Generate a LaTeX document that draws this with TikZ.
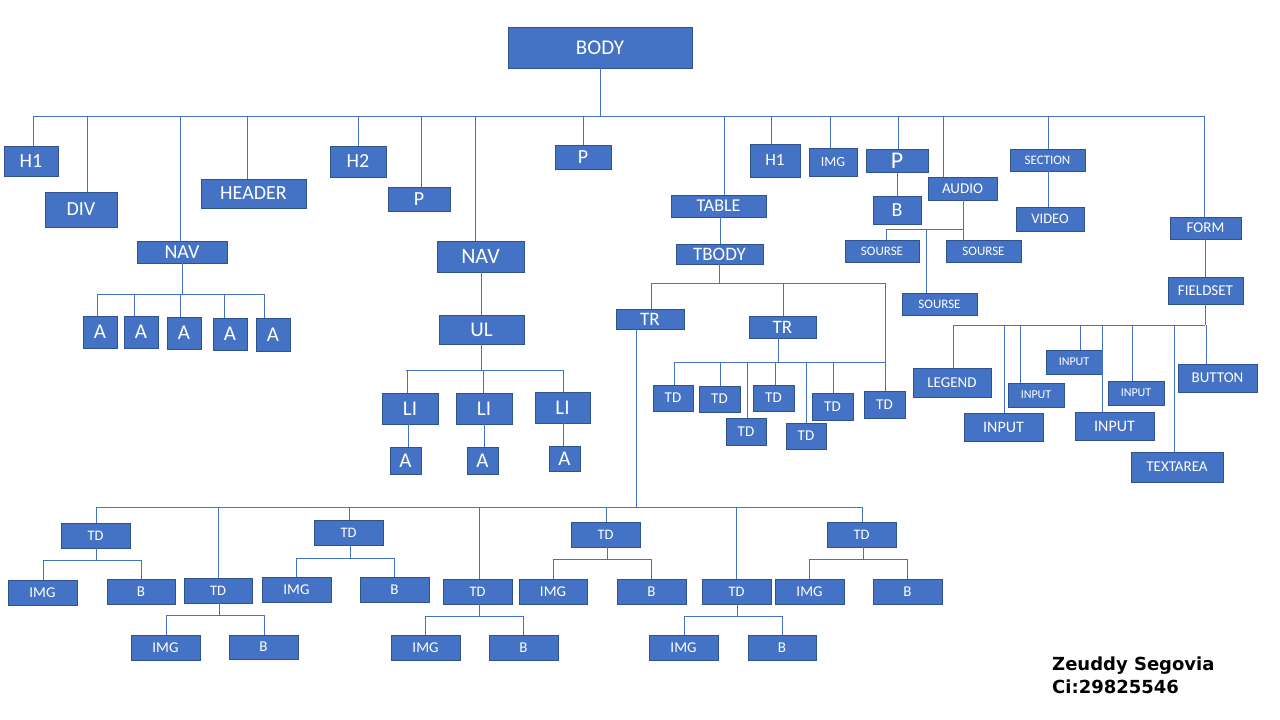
\documentclass[tikz,border=0pt]{standalone}
\usepackage{fontspec}
\setmainfont{Carlito}
\newfontfamily\sigfont{DejaVu Sans}
\definecolor{boxfill}{HTML}{4472C4}
\definecolor{boxline}{HTML}{2F528F}
\definecolor{connc}{HTML}{4472C4}
\tikzset{
  box/.style={draw=boxline, fill=boxfill, text=white, inner sep=0pt, outer sep=0pt, line width=0.9pt},
  conn/.style={draw=connc, line width=1pt}
}
\newcommand\bx[7]{%
  \pgfmathsetmacro\bw{#4-#2}\pgfmathsetmacro\bh{#5-#3}%
  \node[box,minimum width=\bw pt,minimum height=\bh pt,font=\fontsize{#6}{#6}\selectfont] (#1) at ({(#2+#4)/2},{(#3+#5)/2}) {#7};}
\newcommand\drop[3]{\coordinate (tmp) at (#2,#3); \draw[conn] (tmp) -- (tmp |- #1.north);}
\newcommand\rise[3]{\coordinate (tmp) at (#2,#3); \draw[conn] (tmp |- #1.south) -- (tmp);}
\newcommand\link[3]{\coordinate (tmp) at (#3,0); \draw[conn] (tmp |- #1.south) -- (tmp |- #2.north);}
\newcommand\bus[3]{\coordinate (bl) at (#1,#3); \coordinate (br) at (#2,#3); \draw[conn] (bl) -- (br);}
\begin{document}
\begin{tikzpicture}[x=1pt,y=-1pt]
\fill[white] (0,0) rectangle (1280,720);
\useasboundingbox (0,0) rectangle (1280,720);
% top level
\bx{body}{508}{27}{692}{68}{21}{BODY}
\bx{h1a}{4}{146}{58}{176}{20}{H1}
\bx{div}{45}{192}{117}{227}{20}{DIV}
\bx{nava}{137}{241}{227}{263}{20}{NAV}
\bx{header}{201}{179}{306}{208}{20}{HEADER}
\bx{a1}{83}{316}{117}{348}{21}{A}
\bx{a2}{124}{316}{158}{348}{21}{A}
\bx{a3}{167}{317}{201}{349}{21}{A}
\bx{a4}{213}{318}{247}{350}{21}{A}
\bx{a5}{256}{318}{290}{351}{21}{A}
\bx{h2}{330}{146}{386}{177}{20}{H2}
\bx{pa}{388}{187}{450}{211}{20}{P}
\bx{navb}{437}{241}{524}{272}{22}{NAV}
\bx{ul}{439}{315}{524}{344}{21}{UL}
\bx{li1}{382}{393}{438}{424}{21}{LI}
\bx{li2}{456}{393}{512}{424}{21}{LI}
\bx{li3}{535}{392}{590}{423}{21}{LI}
\bx{la1}{390}{447}{421}{474}{21}{A}
\bx{la2}{467}{447}{498}{474}{21}{A}
\bx{la3}{549}{446}{580}{471}{21}{A}
\bx{pb}{555}{145}{611}{169}{20}{P}
\bx{table}{671}{195}{766}{217}{18}{TABLE}
\bx{tbody}{676}{244}{763}{264}{19}{TBODY}
\bx{tr1}{616}{309}{684}{329}{19}{TR}
\bx{tr2}{749}{316}{816}{338}{19}{TR}
\bx{td1}{653}{385}{693}{411}{15}{TD}
\bx{td2}{699}{386}{740}{412}{15}{TD}
\bx{td3}{726}{418}{766}{445}{15}{TD}
\bx{td4}{753}{385}{794}{411}{15}{TD}
\bx{td5}{786}{423}{826}{449}{15}{TD}
\bx{td6}{812}{393}{853}{420}{15}{TD}
\bx{td7}{864}{391}{905}{418}{15}{TD}
\bx{h1b}{750}{144}{800}{177}{17}{H1}
\bx{imga}{809}{148}{857}{176}{14}{IMG}
\bx{pc}{866}{149}{928}{172}{24}{P}
\bx{bb}{873}{196}{921}{224}{20}{B}
\bx{audio}{928}{177}{997}{200}{15}{AUDIO}
\bx{src1}{845}{240}{919}{262}{13}{SOURSE}
\bx{src2}{946}{240}{1021}{262}{13}{SOURSE}
\bx{src3}{902}{293}{977}{315}{13}{SOURSE}
\bx{section}{1010}{149}{1085}{171}{13}{SECTION}
\bx{video}{1016}{207}{1084}{231}{14.5}{VIDEO}
\bx{form}{1170}{217}{1241}{239}{15}{FORM}
\bx{fieldset}{1168}{277}{1243}{304}{15}{FIELDSET}
\bx{legend}{913}{368}{991}{397}{15}{LEGEND}
\bx{inA}{964}{413}{1043}{441}{16}{INPUT}
\bx{inb}{1008}{383}{1064}{407}{12}{INPUT}
\bx{inc}{1046}{350}{1102}{374}{12}{INPUT}
\bx{inD}{1075}{412}{1154}{440}{16}{INPUT}
\bx{ine}{1108}{381}{1164}{405}{12}{INPUT}
\bx{textarea}{1131}{452}{1223}{482}{15}{TEXTAREA}
\bx{button}{1178}{364}{1257}{392}{15}{BUTTON}
% bottom
\bx{tda}{61}{523}{130}{548}{14.5}{TD}
\bx{imga1}{8}{580}{77}{605}{15}{IMG}
\bx{ba}{107}{579}{175}{604}{15}{B}
\bx{tdb}{184}{578}{252}{603}{14.5}{TD}
\bx{imgb}{131}{635}{200}{660}{15}{IMG}
\bx{bbb}{229}{635}{298}{659}{15}{B}
\bx{tdc}{314}{520}{383}{545}{14.5}{TD}
\bx{imgc}{262}{577}{331}{602}{15}{IMG}
\bx{bc}{360}{577}{429}{602}{15}{B}
\bx{tdd}{443}{579}{512}{604}{14.5}{TD}
\bx{imgd}{391}{635}{460}{660}{15}{IMG}
\bx{bd}{489}{635}{558}{660}{15}{B}
\bx{tde}{571}{522}{640}{547}{14.5}{TD}
\bx{imge}{519}{579}{587}{604}{15}{IMG}
\bx{be}{617}{579}{686}{604}{15}{B}
\bx{tdf}{702}{579}{771}{604}{14.5}{TD}
\bx{imgf}{649}{635}{718}{660}{15}{IMG}
\bx{bf}{748}{635}{816}{660}{15}{B}
\bx{tdg}{827}{522}{896}{547}{14.5}{TD}
\bx{imgg}{775}{579}{844}{604}{15}{IMG}
\bx{bg}{873}{579}{942}{604}{15}{B}
% connectors: top bus
\rise{body}{600}{116}
\bus{33}{1205}{116}
\drop{h1a}{33}{116}
\drop{div}{87}{116}
\drop{nava}{180}{116}
\drop{header}{247}{116}
\drop{h2}{358}{116}
\drop{pa}{421}{116}
\drop{navb}{475}{116}
\drop{pb}{583}{116}
\drop{table}{724}{116}
\drop{h1b}{771}{116}
\drop{imga}{830}{116}
\drop{pc}{898}{116}
\drop{audio}{943}{116}
\drop{section}{1048}{116}
\drop{form}{1204}{116}
% nav 1
\rise{nava}{182}{294}
\bus{97}{264}{294}
\drop{a1}{97}{294}
\drop{a2}{134}{294}
\drop{a3}{180}{294}
\drop{a4}{224}{294}
\drop{a5}{264}{294}
% nav 2
\link{navb}{ul}{481}
\rise{ul}{481}{370}
\bus{406}{564}{370}
\drop{li1}{407}{370}
\drop{li2}{483}{370}
\drop{li3}{563}{370}
\link{li1}{la1}{408}
\link{li2}{la2}{484}
\link{li3}{la3}{563}
% table
\link{table}{tbody}{720}
\rise{tbody}{719}{283}
\bus{651}{885}{283}
\drop{tr1}{651}{283}
\drop{tr2}{783}{283}
\drop{td7}{885}{283}
\rise{tr2}{778}{362}
\bus{674}{885}{362}
\drop{td1}{674}{362}
\drop{td2}{720}{362}
\drop{td3}{747}{362}
\drop{td4}{775}{362}
\drop{td5}{806}{362}
\drop{td6}{833}{362}
% p / audio / section
\link{pc}{bb}{897}
\rise{audio}{963}{229}
\bus{886}{964}{229}
\drop{src1}{886}{229}
\drop{src3}{926}{229}
\drop{src2}{963}{229}
\link{section}{video}{1048}
% form
\link{form}{fieldset}{1205}
\rise{fieldset}{1205}{325}
\bus{953}{1205}{325}
\drop{legend}{953}{325}
\drop{inA}{1004}{325}
\drop{inb}{1020}{325}
\drop{inc}{1080}{325}
\drop{inD}{1102}{325}
\drop{ine}{1132}{325}
\drop{textarea}{1174}{325}
\drop{button}{1206}{325}
% TR1 subtree
\rise{tr1}{636}{507}
\bus{96}{862}{507}
\drop{tda}{96}{507}
\drop{tdb}{218}{507}
\drop{tdc}{349}{507}
\drop{tdd}{479}{507}
\drop{tde}{606}{507}
\drop{tdf}{736}{507}
\drop{tdg}{862}{507}
\rise{tda}{96}{560}\bus{43}{141}{560}\drop{imga1}{43}{560}\drop{ba}{141}{560}
\rise{tdb}{219}{615}\bus{166}{264}{615}\drop{imgb}{166}{615}\drop{bbb}{264}{615}
\rise{tdc}{350}{558}\bus{296}{394}{558}\drop{imgc}{296}{558}\drop{bc}{394}{558}
\rise{tdd}{479}{616}\bus{425}{523}{616}\drop{imgd}{425}{616}\drop{bd}{523}{616}
\rise{tde}{607}{559}\bus{553}{651}{559}\drop{imge}{553}{559}\drop{be}{651}{559}
\rise{tdf}{737}{616}\bus{684}{782}{616}\drop{imgf}{684}{616}\drop{bf}{782}{616}
\rise{tdg}{863}{559}\bus{809}{907}{559}\drop{imgg}{809}{559}\drop{bg}{907}{559}
% signature
\node[anchor=base west, inner sep=0pt, font=\sigfont\bfseries\fontsize{18}{18}\selectfont] (sig1) at (1052,670) {Zeuddy Segovia};
\node[anchor=base west, inner sep=0pt, font=\sigfont\bfseries\fontsize{18}{18}\selectfont] (sig2) at (1052,693) {Ci:29825546};
\end{tikzpicture}
\end{document}
